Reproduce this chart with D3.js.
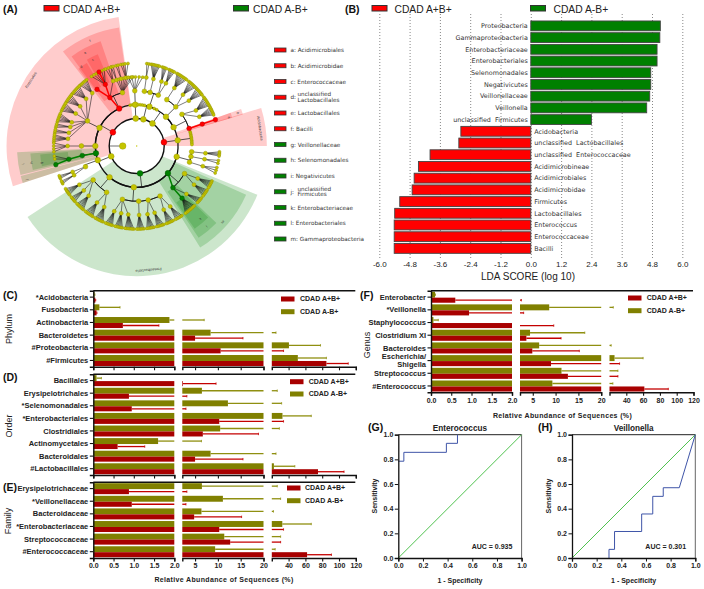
<!doctype HTML>
<html>
<head>
    <meta charset="utf-8">
    <style>
        body { margin: 0; background: #fff; }
        text { font-family: "Liberation Sans", Arial, sans-serif; }
        .lefse { font-family: "DejaVu Sans", sans-serif; fill: #333; }
        .bold { font-weight: bold; }
    </style>
    <script src="https://d3js.org/d3.v7.min.js"></script>
</head>
<body>
<div id="chart"></div>
<script>

    // ---------- panel A: cladogram, angles in degrees clockwise from north
    // a node is [angle, children, group], a bare number is a leaf
    var firmicutesTree = [300, [
        [335, [
            [331, [[325, [], "A"], [333, [327, 329, 331, [333, [], "A"], 335, 337], "A"], [340, [338, 340, 342]]], "A"],
            [345, [[343, [342, 343.5]], 345, [347, [345.5, 347]], 349, [351, [349, 350.5, 352, 354]], 353, 355, 357]]
        ], "A"],
        [296, [
            [297, [
                [320, [317, 318.2, 319.4, 320.6, 321.8, 323]],
                [313, [309, 310.2, 311.4, 312.6, 313.8, 315, 316.2]],
                [305, [302, 303.2, 304.4, 305.6, 306.8, 308]],
                [298, [295, 296.2, 297.4, 298.6, 299.8, 301]],
                [290, [287, 288.2, 289.4, 290.6, 291.8, 293]],
                [286, [283, 284.2, 285.4]],
                [281, [279, 280.2, 281.4]],
                [276, [273, 274.2, 275.4, 276.6, 277.8]]
            ]]
        ]],
        [270, [[270, [[270, [266, 268, 270, 272]]]]]],
        [260, [[260, [[259, [[257, [], "B"], 261, 263], "B"]], "B"]], "B"]
    ], "A"];

    var bacteroidetesTree = [248, [[250, [[248, [[245, [243, 244, 245]], [248, [247, 248, 249]]]]]]]];

    var proteobacteriaTree = [173, [
        [105, [[96, [[96, [94, 95, 96, 97]]]], [101, [[101, [100, 102]]]], [107, [[107, [105, 107, 109]]]]]],
        [131, [
            [120, [[118, [115, 116, 117, 118, 119, 120]], [124, [122, 123, 124, 125, 126, 127]]]],
            [139, [[134, [129, 130, 131, 132, 133]], [139, [136, 137, 138, 139, 140, 141, 142, 143, 144], "B"]], "B"]
        ], "B"],
        [184, [
            [155, [[151, [147, 148, 149, 150, 151, 152]], [157, [154, 155, 156, 157, 158, 159]]]],
            [168, [[165, [161, 162, 163, 164, 165, 166]], [171, [168, 169, 170, 171, 172, 173]]]],
            [178, [[178, [175, 176, 177, 178, 179, 180]]]],
            [195, [[187, [182, 183, 184, 185, 186, 187, 188]], [193, [190, 191, 192, 193, 194, 195]], [199, [197, 198, 199, 200, 201, 202]]]]
        ]],
        [221, [
            [213, [[208, [204, 205, 206, 207, 208, 209, 210]], [215, [212, 213, 214, 215, 216, 217, 218]]]],
            [232, [[224, [220, 221, 222, 223, 224, 225, 226]], [230, [228, 229, 230, 231, 232]], [236, [234, 235, 236, 237, 238, 239]]]]
        ]]
    ], "B"];

    var topTreeA = [358, [
        [351, []], [354, []],
        [358, [[358, [[353, []], [356, []], [359, []], [2, []], [5, []]]]]],
        [2, []], [5, []], [8, []]
    ]];
    var topTreeB = [14, [
        [11, []],
        [18, [
            [8, [[8, [7, 8.5]]]],
            [14, [[14, [10, 11, 12, 13, 14, 15, 16]]]],
            [23, [[21, [18, 19, 20, 21]], [25, [23, 24, 25, 26, 27]]]]
        ]],
        [25, []], [29, []]
    ]];
    var topTreeC = [35, [
        [45, [
            [33, [[33, [29, 30, 31, 32, 33, 34, 35, 36, 37]]]],
            [45, [[42, [39, 40, 41, 42, 43, 44, 45]], [49, [46, 47, 48, 49, 50, 51, 52]]]]
        ]],
        [63, [
            [55, [[59, [54, 55, 56, 57, 58, 59, 60, 61]], [65, [62, 63, 64, 65, 66, 67, 68]]]],
            [71.5, [[71.5, [[71.5, [], "A"]], "A"]], "A"]
        ]]
    ]];
    var acidobacteriaTree = [82, [[82, [75, 76.5, 78, 79.5, 81, 82.5, 84, 85.5, 87, 88.5]]], "A"];

    var cladeTrees = [firmicutesTree, bacteroidetesTree, proteobacteriaTree, topTreeA, topTreeB, topTreeC, acidobacteriaTree];

    // highlighted clades, extents in the same level units as the tree
    var sectorStart = [252, 73, 112, 322, 324, 323, 330, 70.5, 70.5, 256, 257, 258, 252, 114, 134, 135];
    var sectorEnd = [352, 90, 237, 351.5, 341, 329, 337, 73.5, 73.5, 267, 266, 265, 255.5, 148, 146, 145];
    var sectorInner = [1, 1, 1, 2, 3, 4, 4, 2, 3, 2, 3, 4, 2, 2, 3, 4];
    var sectorOuter = [8.4, 8.4, 8.4, 7.65, 7, 6, 6.2, 7, 6.2, 7.65, 6.7, 6, 7.65, 7.65, 7, 6.3];
    var sectorGroup = ["A", "A", "B", "A", "A", "A", "A", "A", "A", "B", "B", "B", "B", "B", "B", "B"];

    var cladeLabels = ["Firmicutes", "Acidobacteria", "Proteobacteria", "a", "b", "c", "d", "e", "f", "g", "h", "i", "j", "k", "l", "m"];
    var cladeLabelAngle = [302, 81.8, 174.6, 72.8, 72, 333, 325, 331, 336, 260, 261, 261, 253, 139, 139, 131.5];
    var cladeLabelLevel = [8, 8, 8, 6, 6.7, 6, 6, 6.7, 7.3, 6, 6.7, 7.3, 7.3, 6, 6.7, 7.3];

    var keyLetters = ["a", "b", "c", "d", "e", "f", "g", "h", "i", "j", "k", "l", "m"];
    var keyNames = ["Acidimicrobiales", "Acidimicrobidae", "Enterococcaceae", "unclassified|Lactobacillales", "Lactobacillales", "Bacilli",
        "Veillonellaceae", "Selenomonadales", "Negativicutes", "unclassified|Firmicutes", "Enterobacteriaceae", "Enterobacteriales", "Gammaproteobacteria"];
    var keyGroups = ["A", "A", "A", "A", "A", "A", "B", "B", "B", "B", "B", "B", "B"];

    // ---------- panel B: LDA scores
    var ldaNames = ["Proteobacteria", "Gammaproteobacteria", "Enterobacteriaceae", "Enterobacteriales", "Selenomonadales", "Negativicutes",
        "Veillonellaceae", "Veillonella", "unclassified  Firmicutes", "Acidobacteria", "unclassified  Lactobacillales",
        "unclassified  Enterococcaceae", "Acidimicrobineae", "Acidimicrobiales", "Acidimicrobidae", "Firmicutes", "Lactobacillales",
        "Enterococcus", "Enterococcaceae", "Bacilli"];
    var ldaScores = [5.13, 5.11, 5.0, 5.0, 4.75, 4.75, 4.71, 4.59, 2.40, -2.77, -2.85, -3.99, -4.45, -4.62, -4.70, -5.19, -5.39, -5.41, -5.41, -5.41];
    var ldaTicks = [-6, -4.8, -3.6, -2.4, -1.2, 0, 1.2, 2.4, 3.6, 4.8, 6];

    // ---------- panels C to F: relative abundance, means and upper error ends
    var phylumNames = ["*Acidobacteria", "Fusobacteria", "Actinobacteria", "Bacteroidetes", "#Proteobacteria", "#Firmicutes"];
    var phylumNeg = [0.03, 0.15, 1.88, 8.4, 40.4, 51];
    var phylumNegHi = [0.04, 0.66, 7.0, 25, 78, 85];
    var phylumPos = [0.05, 0.08, 0.73, 5, 10.6, 85];
    var phylumPosHi = [0.06, 0.09, 1.62, 15.5, 34, 111];

    var orderNames = ["Bacillales", "Erysipelotrichales", "*Selenomonadales", "*Enterobacteriales", "Clostridiales", "Actinomycetales", "Bacteroidales", "#Lactobacillales"];
    var orderNeg = [0.08, 6.5, 12.2, 32.7, 10.5, 1.6, 8.4, 22.5];
    var orderNegHi = [0.2, 26.5, 31.7, 67, 29, 6.4, 25, 47.4];
    var orderPos = [2.35, 0.88, 0.95, 10.3, 6.7, 0.6, 5, 75];
    var orderPosHi = [9.6, 3.2, 3, 34, 18.9, 1.27, 15.5, 106];

    var familyNames = ["Erysipelotrichaceae", "*Veillonellaceae", "Bacteroidaceae", "*Enterobacteriaceae", "Streptococcaceae", "#Enterococcaceae"];
    var familyNeg = [6.5, 11.1, 6.4, 32.5, 11.4, 9.4];
    var familyNegHi = [26.5, 30.5, 22, 67, 30.5, 24];
    var familyPos = [0.88, 0.95, 4.8, 10.3, 12.7, 62];
    var familyPosHi = [3.2, 3, 15.2, 34, 30.5, 91];

    var genusNames = ["Enterobacter", "*Veillonella", "Staphylococcus", "Clostridium XI", "Bacteroides", "Escherichia/|Shigella", "Streptococcus", "#Enterococcus"];
    var genusNeg = [0.1, 8.6, 0.06, 4.4, 6.4, 26, 11.3, 9.3];
    var genusNegHi = [0.11, 24.5, 0.18, 16.4, 22, 60, 30, 24];
    var genusPos = [0.6, 0.94, 2.2, 3.6, 4.9, 9, 12.7, 61.5];
    var genusPosHi = [2.5, 3, 9.6, 11.2, 15.2, 32, 30, 90];

    // ---------- panels G and H: ROC curves
    var enteroFpr = [0, 0.045, 0.045, 0.39, 0.39, 0.48, 0.48];
    var enteroTpr = [0.785, 0.785, 0.857, 0.857, 0.93, 0.93, 1];
    var veilFpr = [0.30, 0.30, 0.345, 0.345, 0.565, 0.565, 0.655, 0.655, 0.74, 0.74, 0.87, 1];
    var veilTpr = [0, 0.07, 0.07, 0.215, 0.215, 0.357, 0.357, 0.5, 0.5, 0.57, 0.57, 1];

    var RED = "#ff0000", GREEN = "#008000", DARKRED = "#a80000", OLIVE = "#808000";

    var svg = d3.select("#chart").append("svg")
        .attr("width", 704)
        .attr("height", 589)
        .style("display", "block");

    function panelLabel(name, x, y) {
        svg.append("text").attr("class", "bold").attr("x", x).attr("y", y)
            .attr("font-size", "10.5px").attr("fill", "#111").text(name);
    }

    function topLegend(x1, x2, tx1, tx2) {
        [[x1, tx1, RED, "CDAD A+B+"], [x2, tx2, GREEN, "CDAD A-B+"]].forEach(function(d) {
            svg.append("rect").attr("x", d[0]).attr("y", 5.5).attr("width", 15).attr("height", 5.5)
                .attr("fill", d[2]).attr("stroke", "#333").attr("stroke-width", 1);
            svg.append("text").attr("x", d[1]).attr("y", 12.5).attr("font-size", "10.3px").attr("fill", "#222").text(d[3]);
        });
    }

    // ---------- panel A
    panelLabel("(A)", 3, 13);
    topLegend(44, 233.5, 63, 253);

    var clade = svg.append("g").attr("transform", "translate(136.7,146)");
    var radial = d3.scaleLinear().domain([1, 5]).range([27.5, 83]);
    var rad = function(deg) { return deg * Math.PI / 180; };
    var arcGen = d3.arc();

    clade.selectAll("path.sector")
        .data(sectorStart.map(function(s, i) { return i; }))
        .join("path")
        .attr("class", "sector")
        .attr("d", function(i) {
            return arcGen({innerRadius: radial(sectorInner[i]), outerRadius: radial(sectorOuter[i]),
                startAngle: rad(sectorStart[i]), endAngle: rad(sectorEnd[i])});
        })
        .attr("fill", function(i) { return sectorGroup[i] == "A" ? "#ff0000" : "#008000"; })
        .attr("fill-opacity", 0.2);

    function toNode(x) {
        if (typeof x === "number") return {a: x};
        return {a: x[0], children: (x[1] || []).map(toNode), group: x[2]};
    }
    var cladeRoot = d3.hierarchy({a: 0, children: cladeTrees.map(toNode)});
    var pointOf = function(n) { return d3.pointRadial(rad(n.data.a), radial(n.depth)); };

    function groupColor(g) { return g == "A" ? RED : g == "B" ? GREEN : null; }

    cladeRoot.descendants().forEach(function(n) {
        if (n.depth == 0 || !n.children) return;
        var p = pointOf(n);
        if (n.depth <= 2) {
            // radial stem and an arc through the children
            var stem = d3.pointRadial(rad(n.data.a), radial(n.depth + 1));
            clade.append("line").attr("x1", p[0]).attr("y1", p[1]).attr("x2", stem[0]).attr("y2", stem[1])
                .attr("stroke", "#111").attr("stroke-width", 0.7);
            var angles = n.children.map(function(c) { return c.data.a; });
            var r = radial(n.depth + 1);
            clade.append("path")
                .attr("d", arcGen({innerRadius: r, outerRadius: r, startAngle: rad(d3.min(angles)), endAngle: rad(d3.max(angles))}))
                .attr("fill", "none").attr("stroke", "#111").attr("stroke-width", n.depth == 1 ? 1.3 : 0.8);
        }
        n.children.forEach(function(c) {
            var q = pointOf(c);
            var hit = c.data.group && n.data.group == c.data.group && c.depth >= 3;
            if (hit || n.depth > 2) {
                clade.append("line").attr("x1", p[0]).attr("y1", p[1]).attr("x2", q[0]).attr("y2", q[1])
                    .attr("stroke", hit ? groupColor(c.data.group) : "#111").attr("stroke-width", hit ? 1.5 : 0.55);
            }
        });
    });

    clade.append("circle").attr("r", 27.5).attr("fill", "#fff").attr("stroke", "#111").attr("stroke-width", 1.4);
    clade.append("line").attr("x1", -radial(1)).attr("y1", 0).attr("x2", -14).attr("y2", 0).attr("stroke", "#111").attr("stroke-width", 0.6);
    clade.append("circle").attr("cx", -14).attr("cy", 0).attr("r", 3.3).attr("fill", "#c4c400").attr("stroke", "#9a9a00").attr("stroke-width", 0.4);
    clade.append("circle").attr("r", 0.7).attr("fill", "#c4c400");

    var nodeSize = [0, 2.9, 2.8, 2.4, 2, 1.5];
    clade.selectAll("circle.node")
        .data(cladeRoot.descendants().filter(function(n) { return n.depth > 0; }).sort(function(a, b) { return (a.data.group ? 1 : 0) - (b.data.group ? 1 : 0); }))
        .join("circle")
        .attr("class", "node")
        .attr("cx", function(n) { return pointOf(n)[0]; })
        .attr("cy", function(n) { return pointOf(n)[1]; })
        .attr("r", function(n) {
            if (!n.data.group && (!n.children || !n.children.length)) return 1.5;
            return n.data.group ? Math.max(nodeSize[n.depth], 2.3) : nodeSize[n.depth];
        })
        .attr("fill", function(n) { return groupColor(n.data.group) || "#c4c400"; })
        .attr("stroke", function(n) { return n.data.group == "A" ? "#aa0000" : n.data.group == "B" ? "#005000" : "#909000"; })
        .attr("stroke-width", 0.4);

    clade.selectAll("text.cl")
        .data(cladeLabels)
        .join("text")
        .attr("class", "cl lefse")
        .attr("font-size", function(d) { return d.length > 1 ? "3.6px" : "3.4px"; })
        .attr("text-anchor", "middle")
        .attr("dy", "0.35em")
        .attr("transform", function(d, i) {
            var p = d3.pointRadial(rad(cladeLabelAngle[i]), radial(cladeLabelLevel[i]));
            return "translate(" + p[0] + "," + p[1] + ") rotate(" + cladeLabelAngle[i] + ")";
        })
        .text(function(d) { return d; });

    // key next to the cladogram
    var keyY = d3.scalePoint().domain(keyLetters).range([50, 239]);
    keyLetters.forEach(function(k, i) {
        var y = keyY(k);
        svg.append("rect").attr("x", 274.5).attr("y", y - 2).attr("width", 11.5).attr("height", 4)
            .attr("fill", keyGroups[i] == "A" ? RED : GREEN).attr("stroke", "#333").attr("stroke-width", 0.8);
        var parts = keyNames[i].split("|");
        if (parts.length == 1) {
            svg.append("text").attr("class", "lefse").attr("x", 290.5).attr("y", y + 2).attr("font-size", "5.7px").text(k + ":  " + parts[0]);
        } else {
            svg.append("text").attr("class", "lefse").attr("x", 290.5).attr("y", y + 2).attr("font-size", "5.7px").text(k + ":");
            svg.append("text").attr("class", "lefse").attr("x", 297.5).attr("y", y - 0.8).attr("font-size", "5.7px").text(parts[0]);
            svg.append("text").attr("class", "lefse").attr("x", 297.5).attr("y", y + 4.6).attr("font-size", "5.7px").text(parts[1]);
        }
    });

    // ---------- panel B
    panelLabel("(B)", 345, 13);
    topLegend(372, 530.5, 394.5, 553.5);

    var ldaX = d3.scaleLinear().domain([-6, 6]).range([379.3, 682.3]);
    var ldaY = d3.scaleBand().domain(ldaNames).range([19.1, 255.2]).padding(0.16);

    svg.append("g")
        .attr("transform", "translate(0,258)")
        .call(d3.axisBottom(ldaX).tickValues(ldaTicks).tickSize(-245).tickPadding(3).tickFormat(function(d) { return d.toFixed(1); }))
        .call(function(g) {
            g.select(".domain").remove();
            g.selectAll("line").attr("stroke", "#555").attr("stroke-width", 0.7).attr("stroke-dasharray", "1,2");
            g.selectAll("text").attr("font-size", "8px").attr("fill", "#222");
        });

    svg.append("g").selectAll("rect")
        .data(ldaNames)
        .join("rect")
        .attr("x", function(d, i) { return ldaX(Math.min(0, ldaScores[i])); })
        .attr("y", function(d) { return ldaY(d); })
        .attr("width", function(d, i) { return Math.abs(ldaX(ldaScores[i]) - ldaX(0)); })
        .attr("height", ldaY.bandwidth())
        .attr("fill", function(d, i) { return ldaScores[i] > 0 ? GREEN : RED; })
        .attr("stroke", "#444")
        .attr("stroke-width", 0.9);

    svg.append("g").selectAll("text")
        .data(ldaNames)
        .join("text")
        .attr("class", "lefse")
        .attr("x", function(d, i) { return ldaScores[i] > 0 ? ldaX(0) - 3 : ldaX(0) + 3.5; })
        .attr("y", function(d) { return ldaY(d) + ldaY.bandwidth() / 2; })
        .attr("dy", "0.35em")
        .attr("text-anchor", function(d, i) { return ldaScores[i] > 0 ? "end" : "start"; })
        .attr("font-size", "6.4px")
        .style("white-space", "pre")
        .text(function(d) { return d; });

    svg.append("text").attr("x", 528).attr("y", 280).attr("text-anchor", "middle")
        .attr("font-size", "10px").attr("fill", "#222").text("LDA SCORE (log 10)");

    // ---------- panels C to F: bars on a broken axis
    function brokenBars(o) {
        var g = svg.append("g");
        var segments = [
            d3.scaleLinear().domain([0, 2]).range([o.x0, o.x0 + 81]),
            d3.scaleLinear().domain([2.2, 20]).range([o.x0 + 89, o.x0 + 170.2]),
            d3.scaleLinear().domain([20, 120]).range([o.x0 + 178.5, o.x0 + 262.5])
        ];
        var tickSets = [[0, 0.5, 1, 1.5, 2], [5, 10, 15, 20], [40, 60, 80, 100, 120]];
        var tickFmts = [d3.format(".1f"), d3.format("d"), d3.format("d")];
        var y = d3.scaleBand().domain(o.names).range([o.top, o.bottom]);
        var bw = y.bandwidth();

        var series = [
            {vals: o.neg, hi: o.negHi, color: OLIVE, line: "#8f8f10", y0: 0.07, h: 0.47},
            {vals: o.pos, hi: o.posHi, color: DARKRED, line: "#c40000", y0: 0.54, h: 0.40}
        ];

        series.forEach(function(s) {
            segments.forEach(function(x) {
                var lo = x.domain()[0], top = x.domain()[1];
                o.names.forEach(function(name, i) {
                    var v = s.vals[i], h = s.hi[i];
                    var yTop = y(name) + bw * s.y0, barH = bw * s.h;
                    if (v > lo) {
                        g.append("rect").attr("x", x(lo)).attr("y", yTop)
                            .attr("width", x(Math.min(v, top)) - x(lo)).attr("height", barH)
                            .attr("fill", s.color);
                    }
                    if (h > lo && v < top) {
                        var ym = yTop + barH / 2;
                        var xa = x(Math.max(v, lo)), xb = x(Math.min(h, top));
                        g.append("line").attr("x1", xa).attr("x2", xb).attr("y1", ym).attr("y2", ym)
                            .attr("stroke", s.line).attr("stroke-width", 1.3);
                        if (h <= top) {
                            g.append("line").attr("x1", xb).attr("x2", xb).attr("y1", ym - 1.2).attr("y2", ym + 1.2)
                                .attr("stroke", s.line).attr("stroke-width", 0.8);
                        }
                    }
                });
            });
        });

        // frame line on top and the three axis pieces
        g.append("line").attr("x1", o.x0).attr("x2", o.x0 + 262).attr("y1", o.top).attr("y2", o.top)
            .attr("stroke", "#111").attr("stroke-width", 1.4);

        segments.forEach(function(x, k) {
            var ax = g.append("g").attr("transform", "translate(0," + o.bottom + ")")
                .call(d3.axisBottom(x).tickValues(tickSets[k]).tickSize(3.5).tickPadding(2)
                    .tickFormat(o.showLabels ? tickFmts[k] : ""));
            ax.select(".domain").attr("stroke", "#111").attr("stroke-width", 1.4);
            ax.selectAll("line").attr("stroke", "#111").attr("stroke-width", 1.1);
            ax.selectAll("text").attr("class", "bold").attr("font-size", "7px").attr("fill", "#222");
        });

        var left = g.append("g").attr("transform", "translate(" + o.x0 + ",0)")
            .call(d3.axisLeft(y).tickSize(3.5).tickPadding(1.5).tickFormat(""));
        left.select(".domain").attr("stroke", "#111").attr("stroke-width", 1.4);
        left.selectAll("line").attr("stroke", "#111").attr("stroke-width", 1.1);

        o.names.forEach(function(name) {
            var parts = name.split("|");
            parts.forEach(function(p, k) {
                g.append("text").attr("class", "bold")
                    .attr("x", o.x0 - 5).attr("y", y(name) + bw / 2 + (k - (parts.length - 1) / 2) * 7.5)
                    .attr("dy", "0.35em").attr("text-anchor", "end")
                    .attr("font-size", "7.5px").attr("fill", "#222").text(p);
            });
        });

        svg.append("text")
            .attr("transform", "translate(" + o.titleX + "," + o.titleY + ") rotate(-90)")
            .attr("text-anchor", "middle").attr("dy", "0.35em")
            .attr("font-size", "9px").attr("fill", "#222").text(o.title);

        // legend laid over the bars
        [["CDAD A+B+", DARKRED, o.legY0], ["CDAD A-B+", OLIVE, o.legY1]].forEach(function(d) {
            g.append("rect").attr("x", o.legX).attr("y", d[2] - 2.5).attr("width", 13.5).attr("height", 5).attr("fill", d[1]);
            g.append("text").attr("class", "bold").attr("x", o.legTx).attr("y", d[2]).attr("dy", "0.35em")
                .attr("font-size", "7px").attr("fill", "#222").text(d[0]);
        });
    }

    panelLabel("(C)", 3, 299);
    brokenBars({names: phylumNames, neg: phylumNeg, negHi: phylumNegHi, pos: phylumPos, posHi: phylumPosHi,
        x0: 93.3, top: 290.8, bottom: 366.8, showLabels: false, title: "Phylum", titleX: 8.5, titleY: 329,
        legX: 281, legTx: 300, legY0: 299, legY1: 311.7});

    panelLabel("(D)", 3, 381);
    brokenBars({names: orderNames, neg: orderNeg, negHi: orderNegHi, pos: orderPos, posHi: orderPosHi,
        x0: 93.3, top: 374.3, bottom: 475, showLabels: false, title: "Order", titleX: 9, titleY: 426,
        legX: 290, legTx: 308.7, legY0: 381.7, legY1: 394});

    panelLabel("(E)", 3, 491);
    brokenBars({names: familyNames, neg: familyNeg, negHi: familyNegHi, pos: familyPos, posHi: familyPosHi,
        x0: 93.3, top: 482.3, bottom: 558, showLabels: true, title: "Family", titleX: 8, titleY: 521,
        legX: 287, legTx: 305, legY0: 488, legY1: 500.7});

    panelLabel("(F)", 360, 299);
    brokenBars({names: genusNames, neg: genusNeg, negHi: genusNegHi, pos: genusPos, posHi: genusPosHi,
        x0: 431, top: 290.8, bottom: 392.3, showLabels: true, title: "Genus", titleX: 367, titleY: 345,
        legX: 628, legTx: 646.7, legY0: 298, legY1: 310.7});

    svg.append("text").attr("class", "bold").attr("x", 224).attr("y", 582).attr("text-anchor", "middle")
        .attr("font-size", "7px").attr("letter-spacing", "0.35px").attr("fill", "#222").text("Relative Abundance of Sequences (%)");
    svg.append("text").attr("class", "bold").attr("x", 562.5).attr("y", 417.5).attr("text-anchor", "middle")
        .attr("font-size", "7px").attr("letter-spacing", "0.35px").attr("fill", "#222").text("Relative Abundance of Sequences (%)");

    // ---------- panels G and H: ROC
    function rocPanel(title, fpr, tpr, auc, x0, tag, tagX) {
        panelLabel(tag, tagX, 431);
        var g = svg.append("g");
        var x = d3.scaleLinear().domain([0, 1]).range([x0, x0 + 123.3]);
        var y = d3.scaleLinear().domain([0, 1]).range([558, 434.7]);
        var ticks = [0, 0.2, 0.4, 0.6, 0.8, 1];

        g.append("line").attr("x1", x0).attr("x2", x0 + 123.3).attr("y1", y(1)).attr("y2", y(1)).attr("stroke", "#222").attr("stroke-width", 1);
        g.append("line").attr("x1", x(1)).attr("x2", x(1)).attr("y1", y(1)).attr("y2", y(0)).attr("stroke", "#666").attr("stroke-width", 1);

        var line = d3.line().x(function(d) { return x(d[0]); }).y(function(d) { return y(d[1]); });
        g.append("path").attr("d", line([[0, 0], [1, 1]])).attr("stroke", "#4fc24f").attr("stroke-width", 1).attr("fill", "none");
        g.append("path").attr("d", line(fpr.map(function(f, i) { return [f, tpr[i]]; })))
            .attr("stroke", "#3f55a8").attr("stroke-width", 1).attr("fill", "none");

        [g.append("g").attr("transform", "translate(0,558)").call(d3.axisBottom(x).tickValues(ticks).tickSize(3.5).tickPadding(2).tickFormat(d3.format(".1f"))),
         g.append("g").attr("transform", "translate(" + x0 + ",0)").call(d3.axisLeft(y).tickValues(ticks).tickSize(3.5).tickPadding(1.5).tickFormat(d3.format(".1f")))
        ].forEach(function(ax) {
            ax.select(".domain").attr("stroke", "#111").attr("stroke-width", 1.3);
            ax.selectAll("line").attr("stroke", "#111").attr("stroke-width", 1);
            ax.selectAll("text").attr("class", "bold").attr("font-size", "7px").attr("fill", "#222");
        });

        g.append("text").attr("class", "bold").attr("x", x(0.5)).attr("y", 430.5).attr("text-anchor", "middle")
            .attr("font-size", "8.2px").attr("fill", "#222").text(title);
        g.append("text").attr("class", "bold").attr("x", x(0.5)).attr("y", 583).attr("text-anchor", "middle")
            .attr("font-size", "7px").attr("fill", "#222").text("1 - Specificity");
        g.append("text").attr("class", "bold").attr("transform", "translate(" + (x0 - 21.5) + ",496) rotate(-90)")
            .attr("text-anchor", "middle").attr("font-size", "7px").attr("fill", "#222").text("Sensitivity");
        g.append("text").attr("class", "bold").attr("x", x(0.76)).attr("y", 548.5).attr("text-anchor", "middle")
            .attr("font-size", "7px").attr("fill", "#222").text("AUC = " + auc);
    }

    rocPanel("Enterococcus", enteroFpr, enteroTpr, "0.935", 398.3, "(G)", 368);
    rocPanel("Veillonella", veilFpr, veilTpr, "0.301", 572, "(H)", 538);

</script>
</body>
</html>
